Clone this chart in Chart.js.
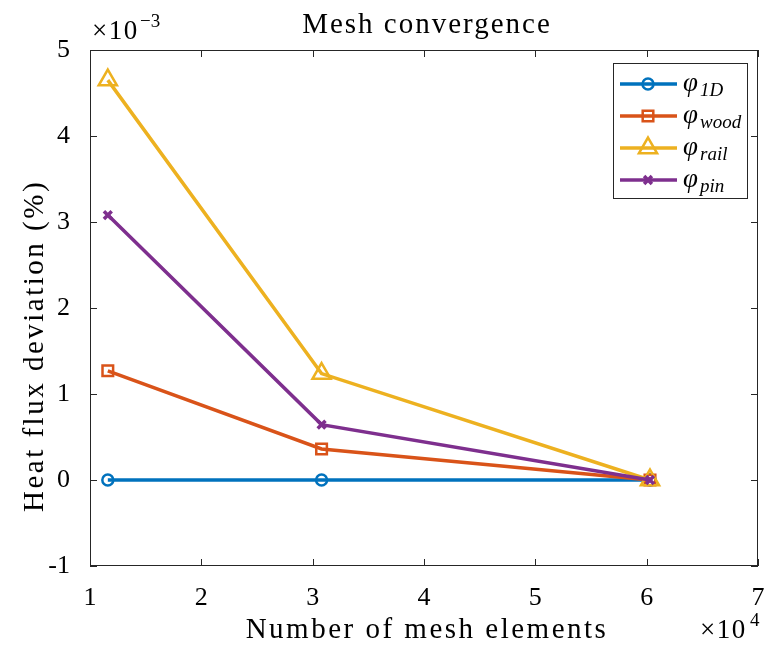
<!DOCTYPE html>
<html>
<head>
<meta charset="utf-8">
<script src="https://cdn.jsdelivr.net/npm/chart.js@4"></script>
<style>
  html, body { margin: 0; padding: 0; background: #fff; }
  #wrap { width: 771px; height: 649px; }
</style>
</head>
<body>
<div id="wrap"><canvas id="meshChart"></canvas></div>
<script>
// mesh sizes (number of elements) and deviations (fraction, shown as x10^-3)
const meshElements = [11600, 30800, 60300];
const phi1D   = [0, 0, 0];
const phiWood = [1.27e-3, 0.361e-3, 0];
const phiRail = [4.65e-3, 1.237e-3, 0];
const phiPin  = [3.08e-3, 0.644e-3, 0];
const seriesNames = ['1D', 'wood', 'rail', 'pin'];
const seriesColors = ['#0072BD', '#D95319', '#EDB120', '#7E2F8E'];

const FONT = '"Liberation Serif", "DejaVu Serif", serif';
const AX = '#262626';

const toPts = ys => ys.map((y, i) => ({ x: meshElements[i], y: y }));

const markers = [
  { pointStyle: 'circle', pointRadius: 5.5, pointBorderWidth: 2.5 },
  { pointStyle: 'rect', pointRadius: 7.5, pointBorderWidth: 2.5 },
  { pointStyle: 'triangle', pointRadius: 10.5, pointBorderWidth: 2.5 },
  { pointStyle: 'crossRot', pointRadius: 5.5, pointBorderWidth: 3.5 }
];

const allData = [phi1D, phiWood, phiRail, phiPin];
const datasets = allData.map((ys, i) => Object.assign({
  label: seriesNames[i],
  data: toPts(ys),
  borderColor: seriesColors[i],
  backgroundColor: 'rgba(0,0,0,0)',
  pointBorderColor: seriesColors[i],
  pointBackgroundColor: 'rgba(0,0,0,0)',
  borderWidth: 3.5,
  tension: 0,
  order: 4 - i
}, markers[i]));

function drawMarker(ctx, i, x, y) {
  const m = markers[i];
  ctx.save();
  ctx.strokeStyle = seriesColors[i];
  ctx.fillStyle = 'rgba(0,0,0,0)';
  ctx.lineWidth = m.pointBorderWidth;
  Chart.helpers.drawPoint(ctx, { pointStyle: m.pointStyle, radius: m.pointRadius, borderWidth: m.pointBorderWidth }, x, y);
  ctx.restore();
}

function spaced(ctx, px) {
  if ('letterSpacing' in ctx) ctx.letterSpacing = px + 'px';
}

const decor = {
  id: 'decor',
  afterDraw(chart) {
    const ctx = chart.ctx;
    const a = chart.chartArea;
    const xs = chart.scales.x, ys = chart.scales.y;
    ctx.save();
    // box + inward ticks
    ctx.strokeStyle = AX;
    ctx.lineWidth = 1;
    ctx.strokeRect(a.left + 0.5, a.top + 0.5, a.right - a.left - 1, a.bottom - a.top - 1);
    ctx.beginPath();
    xs.ticks.forEach(t => {
      const px = Math.round(xs.getPixelForValue(t.value)) + 0.5;
      ctx.moveTo(px, a.bottom); ctx.lineTo(px, a.bottom - 7);
      ctx.moveTo(px, a.top); ctx.lineTo(px, a.top + 7);
    });
    ys.ticks.forEach(t => {
      const py = Math.round(ys.getPixelForValue(t.value)) + 0.5;
      ctx.moveTo(a.left, py); ctx.lineTo(a.left + 7, py);
      ctx.moveTo(a.right, py); ctx.lineTo(a.right - 7, py);
    });
    ctx.stroke();

    ctx.fillStyle = '#000';
    ctx.textBaseline = 'alphabetic';
    ctx.textAlign = 'center';
    // title
    ctx.font = '29px ' + FONT;
    spaced(ctx, 2);
    ctx.fillText('Mesh convergence', 427, 33);
    // x title
    spaced(ctx, 2.5);
    ctx.fillText('Number of mesh elements', 427, 638);
    // y title
    ctx.save();
    ctx.translate(43, 346);
    ctx.rotate(-Math.PI / 2);
    ctx.fillText('Heat flux deviation (%)', 0, 0);
    ctx.restore();

    // exponent labels
    ctx.textAlign = 'left';
    ctx.font = '27px ' + FONT;
    spaced(ctx, 1.5);
    ctx.fillText('\u00d710', 92, 39);
    ctx.fillText('\u00d710', 700, 638);
    spaced(ctx, 0);
    ctx.font = '19px ' + FONT;
    ctx.fillText('\u22123', 140, 27);
    ctx.fillText('4', 750, 626);

    // legend
    const lx = 613, ly = 63, lw = 134, lh = 135;
    ctx.fillStyle = '#fff';
    ctx.fillRect(lx, ly, lw, lh);
    ctx.strokeStyle = AX;
    ctx.lineWidth = 1;
    ctx.strokeRect(lx + 0.5, ly + 0.5, lw, lh);
    seriesNames.forEach((name, i) => {
      const cy = 84 + i * 32;
      ctx.strokeStyle = seriesColors[i];
      ctx.lineWidth = 3.5;
      ctx.beginPath();
      ctx.moveTo(620, cy); ctx.lineTo(677, cy);
      ctx.stroke();
      drawMarker(ctx, i, 648, cy);
      ctx.fillStyle = '#000';
      ctx.font = 'italic 27px ' + FONT;
      ctx.fillText('\u03c6', 683, cy + 7);
      ctx.font = 'italic 19px ' + FONT;
      ctx.fillText(name, 700, cy + 12);
    });
    ctx.restore();
  }
};

new Chart(document.getElementById('meshChart'), {
  type: 'line',
  data: { datasets: datasets },
  options: {
    responsive: true,
    maintainAspectRatio: false,
    animation: false,
    layout: { padding: { left: 0, right: 9, top: 50, bottom: 0 } },
    plugins: { legend: { display: false }, tooltip: { enabled: false } },
    scales: {
      x: {
        type: 'linear',
        min: 10000, max: 70000,
        grid: { display: false },
        border: { display: false },
        ticks: {
          stepSize: 10000,
          padding: 9,
          color: '#000',
          font: { family: FONT, size: 26 },
          maxRotation: 0,
          autoSkip: false,
          callback: v => String(Math.round(v / 10000))
        },
        afterFit: s => { s.height = 83; s.paddingLeft = 0; s.paddingRight = 0; }
      },
      y: {
        type: 'linear',
        min: -1e-3, max: 5e-3,
        grid: { display: false },
        border: { display: false },
        ticks: {
          stepSize: 1e-3,
          padding: 12,
          color: '#000',
          font: { family: FONT, size: 26 },
          callback: v => String(Math.round(v * 1000))
        },
        afterFit: s => { s.width = 90; s.paddingTop = 0; s.paddingBottom = 0; }
      }
    }
  },
  plugins: [decor]
});
</script>
</body>
</html>
